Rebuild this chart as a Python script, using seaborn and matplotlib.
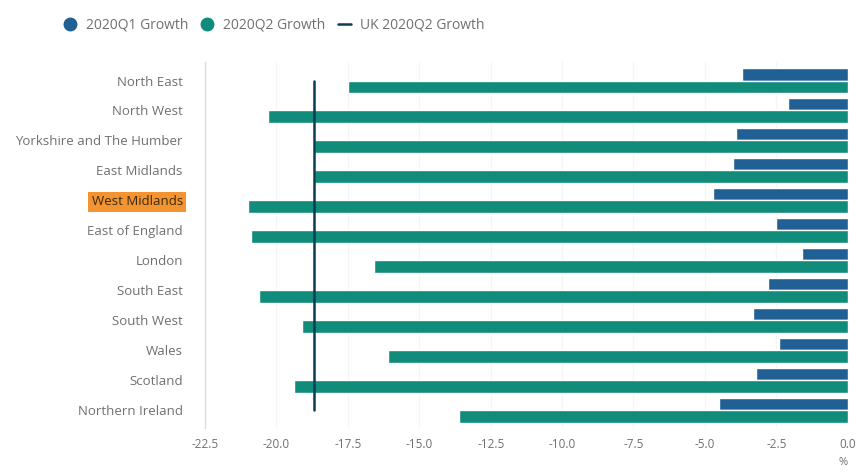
import pandas as pd
import matplotlib.pyplot as plt
import matplotlib.lines as mlines
import seaborn as sns

# Regional GDP growth, %
regions = ["North East", "North West", "Yorkshire and The Humber", "East Midlands",
           "West Midlands", "East of England", "London", "South East", "South West",
           "Wales", "Scotland", "Northern Ireland"]
q1_growth = [-3.7, -2.1, -3.9, -4.0, -4.7, -2.5, -1.6, -2.8, -3.3, -2.4, -3.2, -4.5]
q2_growth = [-17.5, -20.3, -18.7, -18.7, -21.0, -20.9, -16.6, -20.6, -19.1, -16.1, -19.4, -13.6]
uk_q2 = -18.7
x_ticks = [-22.5, -20.0, -17.5, -15.0, -12.5, -10.0, -7.5, -5.0, -2.5, 0.0]

blue = "#206095"
green = "#118c7b"
dark = "#0b3c52"
grey = "#707070"

df = pd.DataFrame({
    "region": regions * 2,
    "growth": q1_growth + q2_growth,
    "series": ["2020Q1 Growth"] * len(regions) + ["2020Q2 Growth"] * len(regions),
})

sns.set_style("white")
plt.rcParams["font.family"] = ["Open Sans", "DejaVu Sans"]

fig = plt.figure(figsize=(8.58, 4.73), dpi=100)
ax = fig.add_axes([0.239, 0.095, 0.749, 0.774])

sns.barplot(data=df, x="growth", y="region", hue="series", orient="h",
            palette=[blue, green], width=0.84, saturation=1, ax=ax, legend=False)

# UK line across the categories
ax.plot([uk_q2] * len(regions), range(len(regions)), color=dark, lw=1.8, zorder=5)

ax.set_xlim(-22.5, 0)
ax.set_ylim(len(regions) - 0.4, -0.62)
ax.set_xticks(x_ticks)
ax.set_xticklabels([f"{t:.1f}" for t in x_ticks])
ax.xaxis.grid(True, color="#f5f5f8", lw=1)
ax.set_axisbelow(True)
ax.set_xlabel("")
ax.set_ylabel("")

for s in ["top", "right", "bottom"]:
    ax.spines[s].set_visible(False)
ax.spines["left"].set_color("#dcdce8")
ax.spines["left"].set_linewidth(1)

ax.tick_params(axis="x", length=0, labelsize=8.5, labelcolor=grey, pad=7)
ax.tick_params(axis="y", which="major", length=0, labelsize=9.5, labelcolor=grey, pad=16)
ax.set_yticks([i + 0.5 for i in range(len(regions))], minor=True)
ax.tick_params(axis="y", which="minor", length=5, color="#dcdce8", width=1)

for lbl in ax.get_yticklabels():
    if lbl.get_text() == "West Midlands":
        lbl.set_color("#3a2a10")
        lbl.set_bbox(dict(facecolor="#f39431", edgecolor="none", pad=2.5))

ax.text(1.0, -0.095, "%", transform=ax.transAxes, ha="right", va="center",
        fontsize=8, color=grey)

handles = [
    mlines.Line2D([], [], marker="o", ls="none", color=blue, markersize=9),
    mlines.Line2D([], [], marker="o", ls="none", color=green, markersize=9),
    mlines.Line2D([], [], color=dark, lw=1.8),
]
fig.legend(handles, ["2020Q1 Growth", "2020Q2 Growth", "UK 2020Q2 Growth"],
           loc="center left", bbox_to_anchor=(0.060, 0.947), ncol=3, frameon=False,
           fontsize=10, labelcolor=grey, handlelength=0.9, handletextpad=0.7,
           columnspacing=0.9)

fig.savefig("out.png", dpi=100)
